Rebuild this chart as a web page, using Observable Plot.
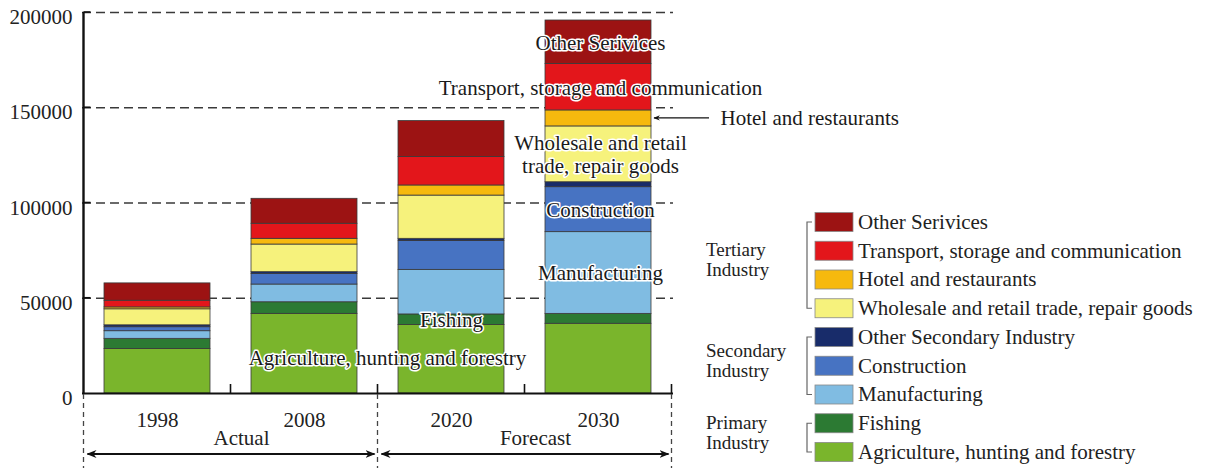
<!DOCTYPE html>
<html><head><meta charset="utf-8">
<script src="https://cdn.jsdelivr.net/npm/d3@7"></script>
<script src="https://cdn.jsdelivr.net/npm/@observablehq/plot@0.6"></script>
<style>
html,body{margin:0;padding:0;background:#fff;}
#chart{position:relative;width:1207px;height:468px;}
#chart svg{font-family:"Liberation Serif","Times New Roman",serif;}
</style></head><body><div id="chart"></div>
<script>
// ---- data ----
const years = ["1998", "2008", "2020", "2030"];
const sectors = ["Agriculture, hunting and forestry", "Fishing", "Manufacturing", "Construction",
  "Other Secondary Industry", "Wholesale and retail trade, repair goods", "Hotel and restaurants",
  "Transport, storage and communication", "Other Serivices"];
const colors = ["#7ab52c", "#2c7a33", "#80bce2", "#4773c2", "#182c6a", "#f6f27c", "#f6b90e", "#e3161b", "#9c1313"];
const agriculture    = [23400, 41800, 36000, 36600];
const fishing        = [5300, 6100, 5500, 5200];
const manufacturing  = [4000, 9300, 23400, 42900];
const construction   = [2100, 5600, 15100, 23600];
const otherSecondary = [1000, 900, 1200, 2600];
const wholesale      = [8400, 14500, 22700, 29300];
const hotel          = [1000, 3000, 5300, 8400];
const transport      = [3500, 7900, 14900, 24400];
const otherServices  = [9100, 13100, 18900, 22800];
const yTicks = [0, 50000, 100000, 150000, 200000];
const periods = ["Actual", "Forecast"];
const groupNames = ["Tertiary\nIndustry", "Secondary\nIndustry", "Primary\nIndustry"];
const groupSizes = [4, 3, 2];

const series = [agriculture, fishing, manufacturing, construction, otherSecondary, wholesale, hotel, transport, otherServices];
const data = [];
sectors.forEach((s, si) => years.forEach((y, yi) => data.push({year: y, sector: s, value: series[si][yi]})));

function mid(yearIdx, sectorIdx) {
  let base = 0;
  for (let i = 0; i < sectorIdx; i++) base += series[i][yearIdx];
  return base + series[sectorIdx][yearIdx] / 2;
}

const labels2030 = [
  {text: "Other Serivices", year: "2030", y: mid(3, 8)},
  {text: "Transport, storage and communication", year: "2030", y: mid(3, 7)},
  {text: "Wholesale and retail\ntrade, repair goods", year: "2030", y: mid(3, 5)},
  {text: "Construction", year: "2030", y: mid(3, 3)},
  {text: "Manufacturing", year: "2030", y: mid(3, 2)}
];
const labelFishing = [{text: "Fishing", year: "2020", y: mid(2, 1)}];
const labelAgri = [{text: "Agriculture, hunting and forestry", year: "2020", y: mid(2, 0) + 900}];
const labelHotel = [{text: "Hotel and restaurants", year: "2030", y: mid(3, 6)}];

const FS = 21;
const halo = {x: "year", y: "y", text: "text", fill: "#1a1a1a", stroke: "white", strokeWidth: 3, fontSize: FS, lineHeight: 1.1};
const plot = Plot.plot({
  width: 1207, height: 468,
  marginLeft: 82, marginRight: 534, marginTop: 12, marginBottom: 75,
  style: {fontFamily: '"Liberation Serif", "Times New Roman", serif', fontSize: FS + "px", color: "#222", background: "white", overflow: "visible"},
  x: {domain: years, paddingInner: 0.28, paddingOuter: 0.14, axis: null},
  y: {domain: [0, 200000], axis: null},
  color: {domain: sectors, range: colors},
  marks: [
    Plot.ruleY(yTicks.filter(d => d > 0), {stroke: "#3a3a3a", strokeWidth: 1.6, strokeDasharray: "9,5"}),
    Plot.barY(data, {x: "year", y: "value", fill: "sector", stroke: "#3a3a3a", strokeWidth: 0.8}),
    Plot.ruleY([0], {stroke: "#111", strokeWidth: 2.2}),
    Plot.axisY({ticks: yTicks, tickSize: 0, tickPadding: 10, tickFormat: d => String(d), fontSize: FS, dy: 5, label: null}),
    Plot.axisX({tickSize: 0, tickPadding: 19, fontSize: FS, label: null}),
    Plot.text(labels2030, {...halo, dx: 2}),
    Plot.text(labelFishing, {...halo, dx: 0}),
    Plot.text(labelAgri, {...halo, dx: -64}),
    Plot.text(labelHotel, {x: "year", y: "y", text: "text", dx: 122, textAnchor: "start", fill: "#1a1a1a", fontSize: FS})
  ]
});
document.getElementById("chart").appendChild(plot);

// ---- decorations derived from the plot's scales ----
const xs = plot.scale("x"), ys = plot.scale("y");
const bw = xs.bandwidth, step = xs.step;
const x0 = xs.apply(years[0]) - (step - bw) / 2;
const bound = k => xs.apply(years[k]) + bw + (step - bw) / 2;
const Y0 = ys.apply(0), Ytop = ys.apply(200000);
const svg = d3.select(plot);
const defs = svg.append("defs");
defs.append("marker").attr("id", "ah").attr("viewBox", "0 0 10 10").attr("refX", 9).attr("refY", 5)
  .attr("markerWidth", 5).attr("markerHeight", 5).attr("orient", "auto-start-reverse").attr("markerUnits", "strokeWidth")
  .append("path").attr("d", "M0,1 L10,5 L0,9 L3,5 z").attr("fill", "#111");
const g = svg.append("g");
// y axis line and inward ticks
g.append("line").attr("x1", x0).attr("x2", x0).attr("y1", Ytop).attr("y2", Y0).attr("stroke", "#111").attr("stroke-width", 2.4);
yTicks.filter(d => d > 0).forEach(t => g.append("line").attr("x1", x0).attr("x2", x0 + 7).attr("y1", ys.apply(t)).attr("y2", ys.apply(t)).attr("stroke", "#111").attr("stroke-width", 1.6));
// x axis boundary ticks
years.forEach((y, k) => g.append("line").attr("x1", bound(k)).attr("x2", bound(k)).attr("y1", Y0).attr("y2", Y0 - 9).attr("stroke", "#111").attr("stroke-width", 1.6));
// dashed separators below axis
[x0, bound(1), bound(3)].forEach(x => g.append("line").attr("x1", x).attr("x2", x).attr("y1", Y0 + 1).attr("y2", 468).attr("stroke", "#444").attr("stroke-width", 1.3).attr("stroke-dasharray", "5,4"));
// period labels and arrows
const spans = [[x0, bound(1)], [bound(1), bound(3)]];
periods.forEach((p, i) => {
  const [a, b] = spans[i];
  g.append("text").attr("x", (a + b) / 2 + 11).attr("y", Y0 + 45).attr("dy", "0.32em").attr("text-anchor", "middle").attr("font-size", FS).attr("fill", "#222").text(p);
  g.append("line").attr("x1", a + 4).attr("x2", b - 3).attr("y1", Y0 + 61).attr("y2", Y0 + 61).attr("stroke", "#111").attr("stroke-width", 2)
    .attr("marker-start", "url(#ah)").attr("marker-end", "url(#ah)");
});
// hotel pointer arrow
const hy = ys.apply(mid(3, 6));
const barRight = xs.apply("2030") + bw;
g.append("line").attr("x1", barRight + 58).attr("x2", barRight + 3).attr("y1", hy).attr("y2", hy).attr("stroke", "#111").attr("stroke-width", 1.3).attr("marker-end", "url(#ah)");

// ---- legend ----
const lg = svg.append("g").attr("font-size", FS).attr("fill", "#222").attr("text-anchor", "start");
const order = sectors.map((s, i) => i).reverse();
const rowY = i => 222 + 28.75 * i;
order.forEach((si, i) => {
  lg.append("rect").attr("x", 815).attr("y", rowY(i) - 9.5).attr("width", 38).attr("height", 19).attr("fill", colors[si]).attr("stroke", "#888").attr("stroke-width", 0.8);
  lg.append("text").attr("x", 858).attr("y", rowY(i)).attr("dy", "0.33em").text(sectors[si]);
});
let start = 0;
groupNames.forEach((name, gi) => {
  const a = rowY(start), b = rowY(start + groupSizes[gi] - 1);
  lg.append("path").attr("d", `M812,${a} H807 V${b} H812`).attr("fill", "none").attr("stroke", "#666").attr("stroke-width", 1.2);
  const c = (a + b) / 2 - 5;
  const lines = name.split("\n");
  lines.forEach((ln, li) => lg.append("text").attr("x", 706).attr("y", c + (li - (lines.length - 1) / 2) * 20).attr("dy", "0.33em").attr("font-size", 19).text(ln));
  start += groupSizes[gi];
});
</script></body></html>
